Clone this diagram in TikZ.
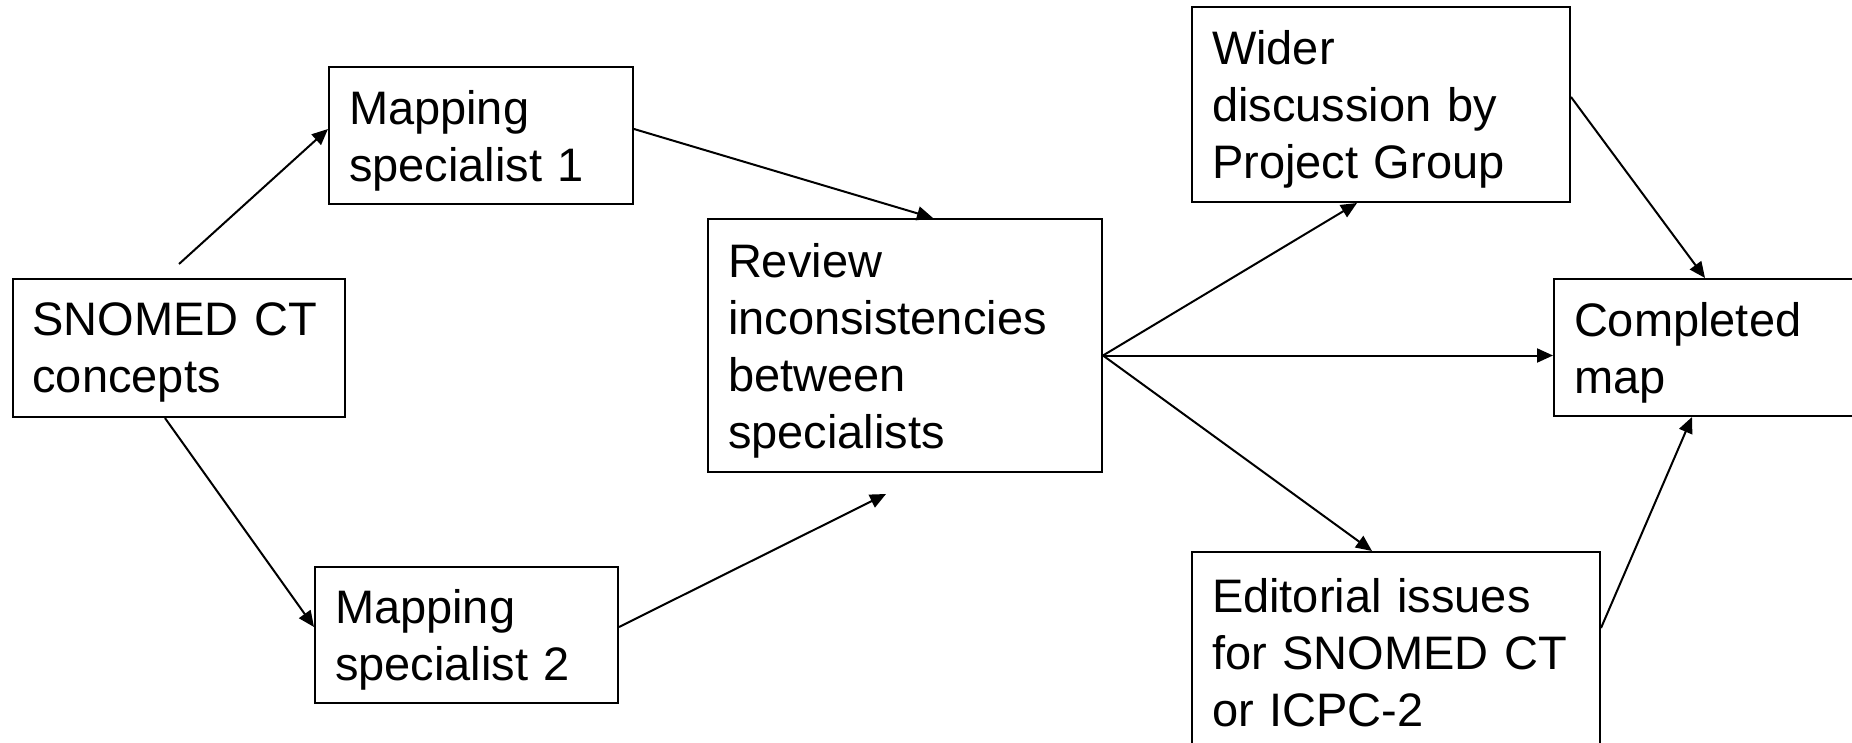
\documentclass[tikz,border=0pt]{standalone}
\usepackage{fontspec}
\setmainfont{Liberation Sans}
\usetikzlibrary{arrows.meta,calc}
\begin{document}
\begin{tikzpicture}[x=0.5pt,y=-0.5pt,
  box/.style={draw, line width=1pt, align=left, inner xsep=10pt, inner ysep=0pt,
    font=\fontsize{23.5}{28.5}\selectfont, anchor=center},
  two/.style={text depth=28.5pt},
  three/.style={text depth=57pt},
  four/.style={text depth=85.5pt},
  conn/.style={line width=1pt, -{Triangle[length=8pt,width=7pt]}}]
\useasboundingbox (0,0) rectangle (1852,743);
\clip (0,0) rectangle (1852,743);
\node[box, two, text width=146.25pt, minimum height=69pt] (snomed) at (178.75,348) {SNOMED CT\\concepts};
\node[box, two, text width=132pt, minimum height=68.5pt] (m1) at (481,135.5) {Mapping\\specialist 1};
\node[box, two, text width=131.5pt, minimum height=68pt] (m2) at (466.5,635) {Mapping\\specialist 2};
\node[box, four, text width=177pt, minimum height=126.5pt] (review) at (905,345.5) {Review\\inconsistencies\\between\\specialists};
\node[box, three, text width=169pt, minimum height=97.5pt] (wider) at (1381,104.5) {Wider\\discussion by\\Project Group};
\node[box, two, text width=153pt, minimum height=68.5pt] (completed) at (1727,347.5) {Completed\\map};
\node[box, three, text width=184pt, minimum height=100.5pt] (editorial) at (1396,652.5) {Editorial issues\\for SNOMED CT\\or ICPC-2};
\coordinate (a1) at (179,264);
\coordinate (a2) at (886,494);
\coordinate (r) at ([yshift=-5pt]review.east);
\draw[conn] (a1) -- ([yshift=3.25pt]m1.west);
\draw[conn] ([xshift=-6.9pt]snomed.south) -- ([yshift=4pt]m2.west);
\draw[conn] ([yshift=3.25pt]m1.east) -- ([xshift=14pt]review.north);
\draw[conn] ([yshift=4pt]m2.east) -- (a2);
\draw[conn] (r) -- ([xshift=-12pt]wider.south);
\draw[conn] (r) -- (r -| completed.west);
\draw[conn] (r) -- ([xshift=-12pt]editorial.north);
\draw[conn] ([yshift=3.75pt]wider.east) -- ([xshift=-11pt]completed.north);
\draw[conn] ([yshift=12.25pt]editorial.east) -- ([xshift=-17.5pt]completed.south);
\end{tikzpicture}
\end{document}
